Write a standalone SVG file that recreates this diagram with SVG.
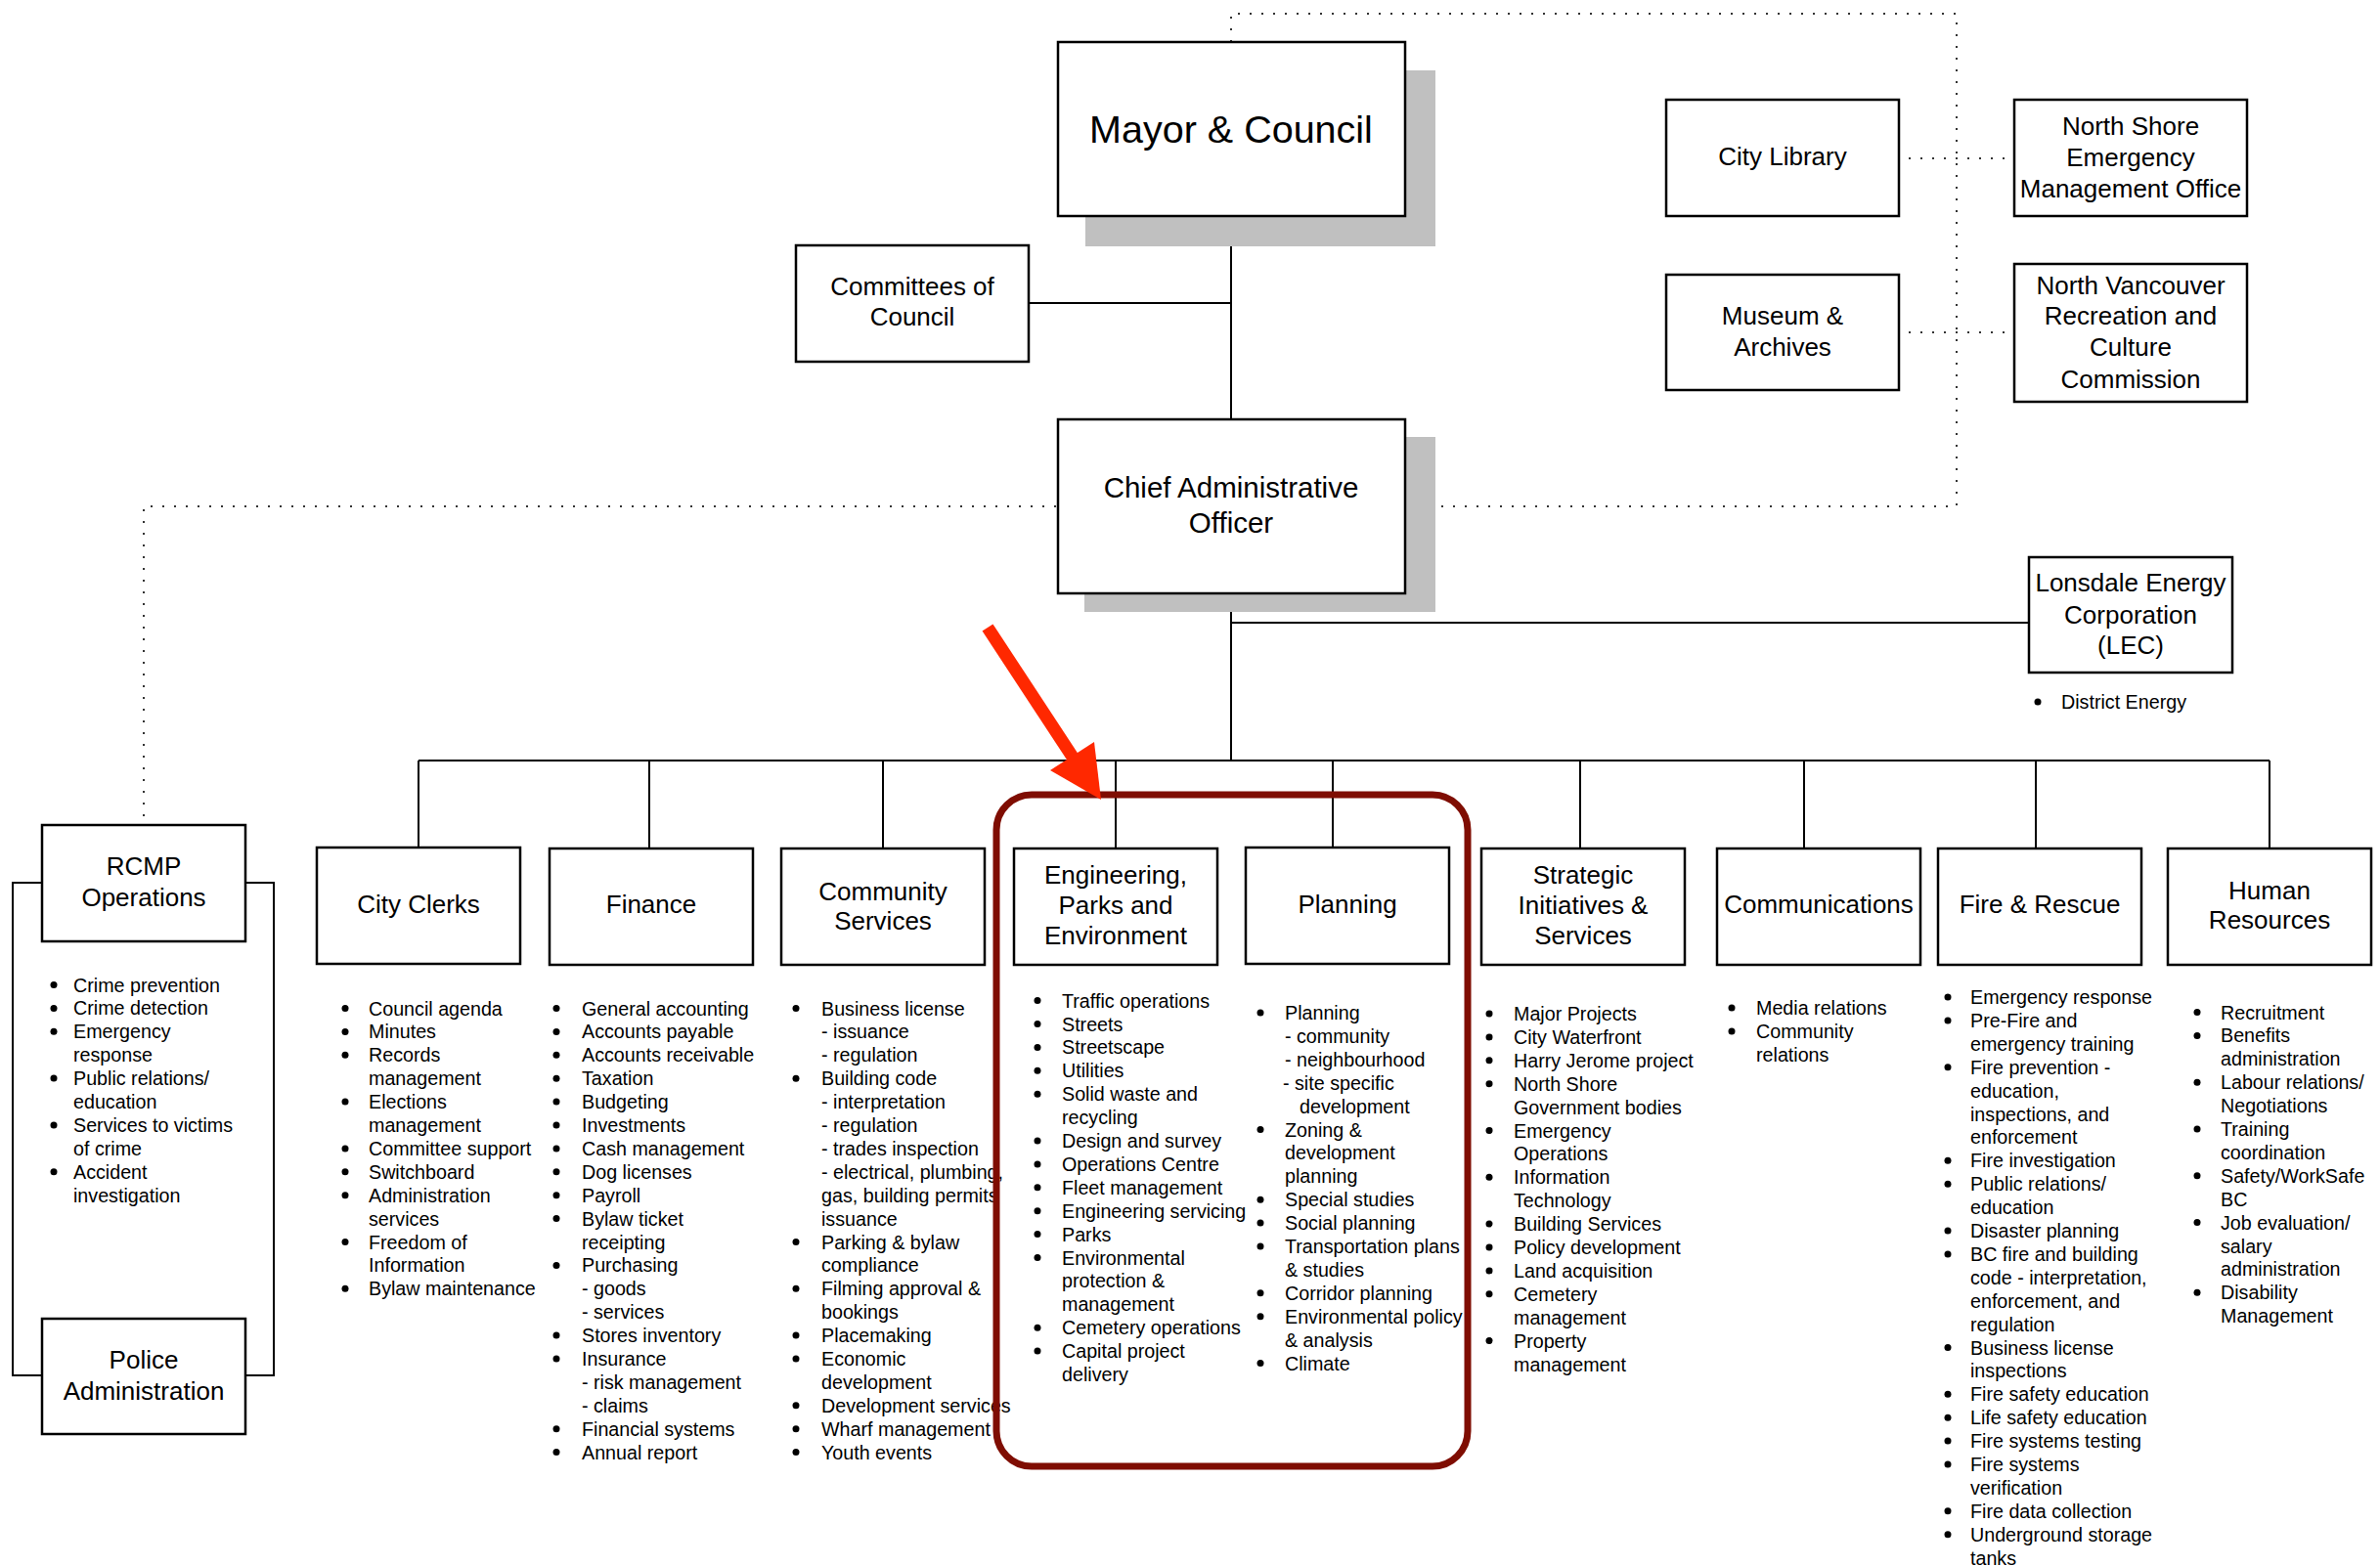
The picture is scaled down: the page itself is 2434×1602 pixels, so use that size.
<svg xmlns="http://www.w3.org/2000/svg" width="2434" height="1602" viewBox="0 0 2434 1602">
<style>
text{font-family:"Liberation Sans",Arial,Helvetica,sans-serif;fill:#000}
.box{fill:#fff;stroke:#000;stroke-width:2.5}
.shadow{fill:#c0c0c0}
.h{font-size:26px;text-anchor:middle}
.big{font-size:39.5px;text-anchor:middle}
.cao{font-size:29.5px;text-anchor:middle}
.li{font-size:19.7px}
.conn{fill:none;stroke:#000;stroke-width:2}
.dot{fill:none;stroke:#333;stroke-width:2;stroke-dasharray:2 10}
.b{fill:#000}
</style>
<rect width="2434" height="1602" fill="#fff"/>

<g id="connectors">
<path class="dot" d="M1259,43 V14 H2001 V518 H1468"/>
<path class="dot" d="M1080,518 H147 V844"/>
<path class="dot" d="M1952,162 H2058"/>
<path class="dot" d="M1952,340 H2058"/>
<path class="conn" d="M1259,221 V429"/>
<path class="conn" d="M1052,310 H1259"/>
<path class="conn" d="M1259,607 V778"/>
<path class="conn" d="M1259,637 H2075"/>
<path class="conn" d="M428,778 H2321"/>
<path class="conn" d="M428,778 V868 M664,778 V868 M903,778 V868 M1141,778 V868 M1363,778 V868 M1616,778 V868 M1845,778 V868 M2082,778 V868 M2321,778 V868"/>
<path class="conn" d="M43,903 H13 V1407 H43 M251,903 H280 V1407 H251"/>
</g>

<g id="mayor">
<rect class="shadow" x="1110" y="72" width="358" height="180"/>
<rect class="box" x="1082" y="43" width="355" height="178"/>
<text class="big" x="1259" y="146">Mayor &amp; Council</text>
</g>

<g id="committees">
<rect class="box" x="814" y="251" width="238" height="119"/>
<text class="h" x="933" y="302">Committees of</text>
<text class="h" x="933" y="333">Council</text>
</g>

<g id="cao">
<rect class="shadow" x="1109" y="447" width="359" height="179"/>
<rect class="box" x="1082" y="429" width="355" height="178"/>
<text class="cao" x="1259" y="508.5">Chief Administrative</text>
<text class="cao" x="1259" y="544.5">Officer</text>
</g>

<g id="city-library">
<rect class="box" x="1704" y="102" width="238" height="119"/>
<text class="h" x="1823" y="169">City Library</text>
</g>

<g id="nsemo">
<rect class="box" x="2060" y="102" width="238" height="119"/>
<text class="h" x="2179" y="138">North Shore</text>
<text class="h" x="2179" y="170">Emergency</text>
<text class="h" x="2179" y="202">Management Office</text>
</g>

<g id="museum">
<rect class="box" x="1704" y="281" width="238" height="118"/>
<text class="h" x="1823" y="332">Museum &amp;</text>
<text class="h" x="1823" y="364">Archives</text>
</g>

<g id="nvrc">
<rect class="box" x="2060" y="270" width="238" height="141"/>
<text class="h" x="2179" y="301">North Vancouver</text>
<text class="h" x="2179" y="332">Recreation and</text>
<text class="h" x="2179" y="364">Culture</text>
<text class="h" x="2179" y="397">Commission</text>
</g>

<g id="lec">
<rect class="box" x="2075" y="570" width="208" height="118"/>
<text class="h" x="2179" y="605">Lonsdale Energy</text>
<text class="h" x="2179" y="638">Corporation</text>
<text class="h" x="2179" y="669">(LEC)</text>
<circle class="b" cx="2084" cy="718" r="3.5"/>
<text class="li" x="2108" y="725">District Energy</text>
</g>

<g id="rcmp">
<rect class="box" x="43" y="844" width="208" height="119"/>
<text class="h" x="147" y="895">RCMP</text>
<text class="h" x="147" y="927">Operations</text>
<circle class="b" cx="55" cy="1007.5" r="3.5"/><circle class="b" cx="55" cy="1031.4" r="3.5"/><circle class="b" cx="55" cy="1055.3" r="3.5"/><circle class="b" cx="55" cy="1103.1" r="3.5"/><circle class="b" cx="55" cy="1150.9" r="3.5"/><circle class="b" cx="55" cy="1198.7" r="3.5"/>
<text class="li" x="75" y="1014.5"><tspan x="75">Crime prevention</tspan><tspan x="75" dy="23.9">Crime detection</tspan><tspan x="75" dy="23.9">Emergency</tspan><tspan x="75" dy="23.9">response</tspan><tspan x="75" dy="23.9">Public relations/</tspan><tspan x="75" dy="23.9">education</tspan><tspan x="75" dy="23.9">Services to victims</tspan><tspan x="75" dy="23.9">of crime</tspan><tspan x="75" dy="23.9">Accident</tspan><tspan x="75" dy="23.9">investigation</tspan></text>
</g>

<g id="police">
<rect class="box" x="43" y="1349" width="208" height="118"/>
<text class="h" x="147" y="1400">Police</text>
<text class="h" x="147" y="1432">Administration</text>
</g>

<g id="city-clerks">
<rect class="box" x="324" y="867" width="208" height="119"/>
<text class="h" x="428" y="934">City Clerks</text>
<circle class="b" cx="353" cy="1031.5" r="3.5"/><circle class="b" cx="353" cy="1055.4" r="3.5"/><circle class="b" cx="353" cy="1079.3" r="3.5"/><circle class="b" cx="353" cy="1127.1" r="3.5"/><circle class="b" cx="353" cy="1174.9" r="3.5"/><circle class="b" cx="353" cy="1198.8" r="3.5"/><circle class="b" cx="353" cy="1222.7" r="3.5"/><circle class="b" cx="353" cy="1270.5" r="3.5"/><circle class="b" cx="353" cy="1318.3" r="3.5"/>
<text class="li" x="377" y="1038.5"><tspan x="377">Council agenda</tspan><tspan x="377" dy="23.9">Minutes</tspan><tspan x="377" dy="23.9">Records</tspan><tspan x="377" dy="23.9">management</tspan><tspan x="377" dy="23.9">Elections</tspan><tspan x="377" dy="23.9">management</tspan><tspan x="377" dy="23.9">Committee support</tspan><tspan x="377" dy="23.9">Switchboard</tspan><tspan x="377" dy="23.9">Administration</tspan><tspan x="377" dy="23.9">services</tspan><tspan x="377" dy="23.9">Freedom of</tspan><tspan x="377" dy="23.9">Information</tspan><tspan x="377" dy="23.9">Bylaw maintenance</tspan></text>
</g>

<g id="finance">
<rect class="box" x="562" y="868" width="208" height="119"/>
<text class="h" x="666" y="934">Finance</text>
<circle class="b" cx="569" cy="1031.5" r="3.5"/><circle class="b" cx="569" cy="1055.4" r="3.5"/><circle class="b" cx="569" cy="1079.3" r="3.5"/><circle class="b" cx="569" cy="1103.2" r="3.5"/><circle class="b" cx="569" cy="1127.1" r="3.5"/><circle class="b" cx="569" cy="1151" r="3.5"/><circle class="b" cx="569" cy="1174.9" r="3.5"/><circle class="b" cx="569" cy="1198.8" r="3.5"/><circle class="b" cx="569" cy="1222.7" r="3.5"/><circle class="b" cx="569" cy="1246.6" r="3.5"/><circle class="b" cx="569" cy="1294.4" r="3.5"/><circle class="b" cx="569" cy="1366.1" r="3.5"/><circle class="b" cx="569" cy="1390" r="3.5"/><circle class="b" cx="569" cy="1461.7" r="3.5"/><circle class="b" cx="569" cy="1485.6" r="3.5"/>
<text class="li" x="595" y="1038.5"><tspan x="595">General accounting</tspan><tspan x="595" dy="23.9">Accounts payable</tspan><tspan x="595" dy="23.9">Accounts receivable</tspan><tspan x="595" dy="23.9">Taxation</tspan><tspan x="595" dy="23.9">Budgeting</tspan><tspan x="595" dy="23.9">Investments</tspan><tspan x="595" dy="23.9">Cash management</tspan><tspan x="595" dy="23.9">Dog licenses</tspan><tspan x="595" dy="23.9">Payroll</tspan><tspan x="595" dy="23.9">Bylaw ticket</tspan><tspan x="595" dy="23.9">receipting</tspan><tspan x="595" dy="23.9">Purchasing</tspan><tspan x="595" dy="23.9">- goods</tspan><tspan x="595" dy="23.9">- services</tspan><tspan x="595" dy="23.9">Stores inventory</tspan><tspan x="595" dy="23.9">Insurance</tspan><tspan x="595" dy="23.9">- risk management</tspan><tspan x="595" dy="23.9">- claims</tspan><tspan x="595" dy="23.9">Financial systems</tspan><tspan x="595" dy="23.9">Annual report</tspan></text>
</g>

<g id="community-services">
<rect class="box" x="799" y="868" width="208" height="119"/>
<text class="h" x="903" y="920.5">Community</text>
<text class="h" x="903" y="950.5">Services</text>
<circle class="b" cx="814" cy="1031.5" r="3.5"/><circle class="b" cx="814" cy="1103.2" r="3.5"/><circle class="b" cx="814" cy="1270.5" r="3.5"/><circle class="b" cx="814" cy="1318.3" r="3.5"/><circle class="b" cx="814" cy="1366.1" r="3.5"/><circle class="b" cx="814" cy="1390" r="3.5"/><circle class="b" cx="814" cy="1437.8" r="3.5"/><circle class="b" cx="814" cy="1461.7" r="3.5"/><circle class="b" cx="814" cy="1485.6" r="3.5"/>
<text class="li" x="840" y="1038.5"><tspan x="840">Business license</tspan><tspan x="840" dy="23.9">- issuance</tspan><tspan x="840" dy="23.9">- regulation</tspan><tspan x="840" dy="23.9">Building code</tspan><tspan x="840" dy="23.9">- interpretation</tspan><tspan x="840" dy="23.9">- regulation</tspan><tspan x="840" dy="23.9">- trades inspection</tspan><tspan x="840" dy="23.9">- electrical, plumbing,</tspan><tspan x="840" dy="23.9">gas, building permits</tspan><tspan x="840" dy="23.9">issuance</tspan><tspan x="840" dy="23.9">Parking &amp; bylaw</tspan><tspan x="840" dy="23.9">compliance</tspan><tspan x="840" dy="23.9">Filming approval &amp;</tspan><tspan x="840" dy="23.9">bookings</tspan><tspan x="840" dy="23.9">Placemaking</tspan><tspan x="840" dy="23.9">Economic</tspan><tspan x="840" dy="23.9">development</tspan><tspan x="840" dy="23.9">Development services</tspan><tspan x="840" dy="23.9">Wharf management</tspan><tspan x="840" dy="23.9">Youth events</tspan></text>
</g>

<g id="engineering">
<rect class="box" x="1037" y="868" width="208" height="119"/>
<text class="h" x="1141" y="904">Engineering,</text>
<text class="h" x="1141" y="935">Parks and</text>
<text class="h" x="1141" y="966">Environment</text>
<circle class="b" cx="1061" cy="1023.6" r="3.5"/><circle class="b" cx="1061" cy="1047.5" r="3.5"/><circle class="b" cx="1061" cy="1071.4" r="3.5"/><circle class="b" cx="1061" cy="1095.3" r="3.5"/><circle class="b" cx="1061" cy="1119.2" r="3.5"/><circle class="b" cx="1061" cy="1167" r="3.5"/><circle class="b" cx="1061" cy="1190.9" r="3.5"/><circle class="b" cx="1061" cy="1214.8" r="3.5"/><circle class="b" cx="1061" cy="1238.7" r="3.5"/><circle class="b" cx="1061" cy="1262.6" r="3.5"/><circle class="b" cx="1061" cy="1286.5" r="3.5"/><circle class="b" cx="1061" cy="1358.2" r="3.5"/><circle class="b" cx="1061" cy="1382.1" r="3.5"/>
<text class="li" x="1086" y="1030.6"><tspan x="1086">Traffic operations</tspan><tspan x="1086" dy="23.9">Streets</tspan><tspan x="1086" dy="23.9">Streetscape</tspan><tspan x="1086" dy="23.9">Utilities</tspan><tspan x="1086" dy="23.9">Solid waste and</tspan><tspan x="1086" dy="23.9">recycling</tspan><tspan x="1086" dy="23.9">Design and survey</tspan><tspan x="1086" dy="23.9">Operations Centre</tspan><tspan x="1086" dy="23.9">Fleet management</tspan><tspan x="1086" dy="23.9">Engineering servicing</tspan><tspan x="1086" dy="23.9">Parks</tspan><tspan x="1086" dy="23.9">Environmental</tspan><tspan x="1086" dy="23.9">protection &amp;</tspan><tspan x="1086" dy="23.9">management</tspan><tspan x="1086" dy="23.9">Cemetery operations</tspan><tspan x="1086" dy="23.9">Capital project</tspan><tspan x="1086" dy="23.9">delivery</tspan></text>
</g>

<g id="planning">
<rect class="box" x="1274" y="867" width="208" height="119"/>
<text class="h" x="1378" y="934">Planning</text>
<circle class="b" cx="1289" cy="1036" r="3.5"/><circle class="b" cx="1289" cy="1155.5" r="3.5"/><circle class="b" cx="1289" cy="1227.2" r="3.5"/><circle class="b" cx="1289" cy="1251.1" r="3.5"/><circle class="b" cx="1289" cy="1275" r="3.5"/><circle class="b" cx="1289" cy="1322.8" r="3.5"/><circle class="b" cx="1289" cy="1346.7" r="3.5"/><circle class="b" cx="1289" cy="1394.5" r="3.5"/>
<text class="li" x="1314" y="1043"><tspan x="1314">Planning</tspan><tspan x="1314" dy="23.9">- community</tspan><tspan x="1314" dy="23.9">- neighbourhood</tspan><tspan x="1312" dy="23.9">- site specific</tspan><tspan x="1329" dy="23.9">development</tspan><tspan x="1314" dy="23.9">Zoning &amp;</tspan><tspan x="1314" dy="23.9">development</tspan><tspan x="1314" dy="23.9">planning</tspan><tspan x="1314" dy="23.9">Special studies</tspan><tspan x="1314" dy="23.9">Social planning</tspan><tspan x="1314" dy="23.9">Transportation plans</tspan><tspan x="1314" dy="23.9">&amp; studies</tspan><tspan x="1314" dy="23.9">Corridor planning</tspan><tspan x="1314" dy="23.9">Environmental policy</tspan><tspan x="1314" dy="23.9">&amp; analysis</tspan><tspan x="1314" dy="23.9">Climate</tspan></text>
</g>

<g id="strategic">
<rect class="box" x="1515" y="868" width="208" height="119"/>
<text class="h" x="1619" y="904">Strategic</text>
<text class="h" x="1619" y="935">Initiatives &amp;</text>
<text class="h" x="1619" y="966">Services</text>
<circle class="b" cx="1523" cy="1037" r="3.5"/><circle class="b" cx="1523" cy="1060.9" r="3.5"/><circle class="b" cx="1523" cy="1084.8" r="3.5"/><circle class="b" cx="1523" cy="1108.7" r="3.5"/><circle class="b" cx="1523" cy="1156.5" r="3.5"/><circle class="b" cx="1523" cy="1204.3" r="3.5"/><circle class="b" cx="1523" cy="1252.1" r="3.5"/><circle class="b" cx="1523" cy="1276" r="3.5"/><circle class="b" cx="1523" cy="1299.9" r="3.5"/><circle class="b" cx="1523" cy="1323.8" r="3.5"/><circle class="b" cx="1523" cy="1371.6" r="3.5"/>
<text class="li" x="1548" y="1044"><tspan x="1548">Major Projects</tspan><tspan x="1548" dy="23.9">City Waterfront</tspan><tspan x="1548" dy="23.9">Harry Jerome project</tspan><tspan x="1548" dy="23.9">North Shore</tspan><tspan x="1548" dy="23.9">Government bodies</tspan><tspan x="1548" dy="23.9">Emergency</tspan><tspan x="1548" dy="23.9">Operations</tspan><tspan x="1548" dy="23.9">Information</tspan><tspan x="1548" dy="23.9">Technology</tspan><tspan x="1548" dy="23.9">Building Services</tspan><tspan x="1548" dy="23.9">Policy development</tspan><tspan x="1548" dy="23.9">Land acquisition</tspan><tspan x="1548" dy="23.9">Cemetery</tspan><tspan x="1548" dy="23.9">management</tspan><tspan x="1548" dy="23.9">Property</tspan><tspan x="1548" dy="23.9">management</tspan></text>
</g>

<g id="communications">
<rect class="box" x="1756" y="868" width="208" height="119"/>
<text class="h" x="1860" y="934">Communications</text>
<circle class="b" cx="1771" cy="1031" r="3.5"/><circle class="b" cx="1771" cy="1054.9" r="3.5"/>
<text class="li" x="1796" y="1038"><tspan x="1796">Media relations</tspan><tspan x="1796" dy="23.9">Community</tspan><tspan x="1796" dy="23.9">relations</tspan></text>
</g>

<g id="fire-rescue">
<rect class="box" x="1982" y="868" width="208" height="119"/>
<text class="h" x="2086" y="934">Fire &amp; Rescue</text>
<circle class="b" cx="1992" cy="1020" r="3.5"/><circle class="b" cx="1992" cy="1043.9" r="3.5"/><circle class="b" cx="1992" cy="1091.7" r="3.5"/><circle class="b" cx="1992" cy="1187.3" r="3.5"/><circle class="b" cx="1992" cy="1211.2" r="3.5"/><circle class="b" cx="1992" cy="1259" r="3.5"/><circle class="b" cx="1992" cy="1282.9" r="3.5"/><circle class="b" cx="1992" cy="1378.5" r="3.5"/><circle class="b" cx="1992" cy="1426.3" r="3.5"/><circle class="b" cx="1992" cy="1450.2" r="3.5"/><circle class="b" cx="1992" cy="1474.1" r="3.5"/><circle class="b" cx="1992" cy="1498" r="3.5"/><circle class="b" cx="1992" cy="1545.8" r="3.5"/><circle class="b" cx="1992" cy="1569.7" r="3.5"/>
<text class="li" x="2015" y="1027"><tspan x="2015">Emergency response</tspan><tspan x="2015" dy="23.9">Pre-Fire and</tspan><tspan x="2015" dy="23.9">emergency training</tspan><tspan x="2015" dy="23.9">Fire prevention -</tspan><tspan x="2015" dy="23.9">education,</tspan><tspan x="2015" dy="23.9">inspections, and</tspan><tspan x="2015" dy="23.9">enforcement</tspan><tspan x="2015" dy="23.9">Fire investigation</tspan><tspan x="2015" dy="23.9">Public relations/</tspan><tspan x="2015" dy="23.9">education</tspan><tspan x="2015" dy="23.9">Disaster planning</tspan><tspan x="2015" dy="23.9">BC fire and building</tspan><tspan x="2015" dy="23.9">code - interpretation,</tspan><tspan x="2015" dy="23.9">enforcement, and</tspan><tspan x="2015" dy="23.9">regulation</tspan><tspan x="2015" dy="23.9">Business license</tspan><tspan x="2015" dy="23.9">inspections</tspan><tspan x="2015" dy="23.9">Fire safety education</tspan><tspan x="2015" dy="23.9">Life safety education</tspan><tspan x="2015" dy="23.9">Fire systems testing</tspan><tspan x="2015" dy="23.9">Fire systems</tspan><tspan x="2015" dy="23.9">verification</tspan><tspan x="2015" dy="23.9">Fire data collection</tspan><tspan x="2015" dy="23.9">Underground storage</tspan><tspan x="2015" dy="23.9">tanks</tspan></text>
</g>

<g id="human-resources">
<rect class="box" x="2217" y="868" width="208" height="119"/>
<text class="h" x="2321" y="920">Human</text>
<text class="h" x="2321" y="950">Resources</text>
<circle class="b" cx="2247" cy="1035.5" r="3.5"/><circle class="b" cx="2247" cy="1059.4" r="3.5"/><circle class="b" cx="2247" cy="1107.2" r="3.5"/><circle class="b" cx="2247" cy="1155" r="3.5"/><circle class="b" cx="2247" cy="1202.8" r="3.5"/><circle class="b" cx="2247" cy="1250.6" r="3.5"/><circle class="b" cx="2247" cy="1322.3" r="3.5"/>
<text class="li" x="2271" y="1042.5"><tspan x="2271">Recruitment</tspan><tspan x="2271" dy="23.9">Benefits</tspan><tspan x="2271" dy="23.9">administration</tspan><tspan x="2271" dy="23.9">Labour relations/</tspan><tspan x="2271" dy="23.9">Negotiations</tspan><tspan x="2271" dy="23.9">Training</tspan><tspan x="2271" dy="23.9">coordination</tspan><tspan x="2271" dy="23.9">Safety/WorkSafe</tspan><tspan x="2271" dy="23.9">BC</tspan><tspan x="2271" dy="23.9">Job evaluation/</tspan><tspan x="2271" dy="23.9">salary</tspan><tspan x="2271" dy="23.9">administration</tspan><tspan x="2271" dy="23.9">Disability</tspan><tspan x="2271" dy="23.9">Management</tspan></text>
</g>

<g id="highlight">
<rect x="1019" y="813" width="482" height="687" rx="36" ry="36" fill="none" stroke="#7f0d02" stroke-width="7"/>
</g>

<g id="red-arrow">
<line x1="1010" y1="642" x2="1098" y2="776" stroke="#ff2800" stroke-width="13"/>
<polygon points="1074,788 1119,759 1126,818" fill="#ff2800"/>
</g>
</svg>
